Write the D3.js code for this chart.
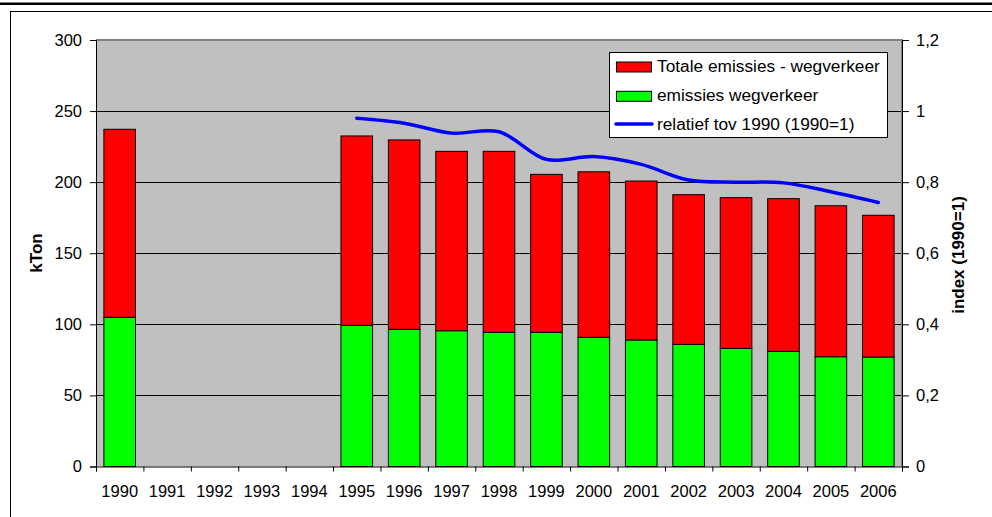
<!DOCTYPE html>
<html>
<head>
<meta charset="utf-8">
<script src="https://cdn.jsdelivr.net/npm/d3@7"></script>
<style>
  html, body { margin: 0; padding: 0; background: #fff; }
  svg { display: block; font-family: "Liberation Sans", Arial, sans-serif; }
</style>
</head>
<body>
<svg id="chart" width="992" height="517"></svg>
<script>
// Road traffic emissions (kTon), 1990-2006
const years = ["1990","1991","1992","1993","1994","1995","1996","1997","1998",
               "1999","2000","2001","2002","2003","2004","2005","2006"];
// road traffic share (green, bottom of stack)
const roadTraffic = [104.9, null, null, null, null, 99.3, 96.5, 95.5, 94.4,
                     94.4, 90.9, 89.0, 85.9, 83.1, 81.0, 77.2, 77.0];
// total emissions minus road traffic (red, stacked on top)
const otherEmissions = [132.3, null, null, null, null, 133.2, 133.2, 126.2, 127.3,
                        111.1, 116.4, 111.8, 105.3, 106.0, 107.4, 106.2, 99.7];
// relative to 1990 (1990 = 1), right axis
const relIndex = [1, null, null, null, null, 0.980, 0.966, 0.938, 0.942,
                  0.864, 0.872, 0.850, 0.806, 0.800, 0.798, 0.773, 0.743];
const leftTicks = [0, 50, 100, 150, 200, 250, 300];
const rightTicks = [0, 0.2, 0.4, 0.6, 0.8, 1, 1.2];
const seriesNames = ["Totale emissies - wegverkeer", "emissies wegverkeer", "relatief tov 1990 (1990=1)"];

const svg = d3.select("#chart");
const plot = { left: 96, right: 902, top: 40, bottom: 466.5 };

// outer frame
svg.append("line").attr("x1", 0).attr("x2", 992).attr("y1", 3.8).attr("y2", 3.8)
  .attr("stroke", "#000").attr("stroke-width", 2.4);
svg.append("rect").attr("x", 10.5).attr("y", 11.5).attr("width", 1000).attr("height", 600)
  .attr("fill", "none").attr("stroke", "#000").attr("stroke-width", 1);

const x = d3.scaleBand().domain(years).range([plot.left, plot.right])
  .paddingInner(1 / 3).paddingOuter(1 / 6);
const edges = d3.scaleLinear().domain([0, years.length]).range([plot.left, plot.right]);
const y = d3.scaleLinear().domain([0, 300]).range([plot.bottom, plot.top]);
const y2 = d3.scaleLinear().domain([0, 1.2]).range([plot.bottom, plot.top]);

// plot background
svg.append("rect").attr("x", plot.left).attr("y", plot.top)
  .attr("width", plot.right - plot.left).attr("height", plot.bottom - plot.top)
  .attr("fill", "#c0c0c0");

// gridlines
svg.append("g").selectAll("line").data(leftTicks.slice(1, -1)).join("line")
  .attr("x1", plot.left).attr("x2", plot.right)
  .attr("y1", d => Math.round(y(d)) + 0.5).attr("y2", d => Math.round(y(d)) + 0.5)
  .attr("stroke", "#000").attr("stroke-width", 1);

// stacked bars
const rows = years.map((yr, i) => ({ year: yr, road: roadTraffic[i], other: otherEmissions[i] }))
  .filter(d => d.road != null);
const stack = d3.stack().keys(["road", "other"])(rows);
const colors = { road: "#00ff00", other: "#ff0000" };
svg.append("g").selectAll("g").data(stack).join("g")
  .attr("fill", d => colors[d.key])
  .selectAll("rect").data(d => d).join("rect")
  .attr("x", d => x(d.data.year))
  .attr("width", x.bandwidth())
  .attr("y", d => y(d[1]))
  .attr("height", d => y(d[0]) - y(d[1]))
  .attr("stroke", "#000").attr("stroke-width", 1);

// plot border (top/right in grey)
svg.append("path")
  .attr("d", `M${plot.left},${plot.top}H${plot.right}V${plot.bottom}`)
  .attr("fill", "none").attr("stroke", "#808080").attr("stroke-width", 2);

// relative index line, drawn per contiguous run of values
const pts = years.map((yr, i) => ({ year: yr, v: relIndex[i] }));
const runs = [];
let cur = [];
pts.forEach(p => {
  if (p.v == null) { if (cur.length) runs.push(cur); cur = []; }
  else cur.push(p);
});
if (cur.length) runs.push(cur);
const line = d3.line()
  .x(d => x(d.year) + x.bandwidth() / 2)
  .y(d => y2(d.v))
  .curve(d3.curveCatmullRom.alpha(0.5));
svg.append("g").selectAll("path").data(runs.filter(r => r.length > 1)).join("path")
  .attr("d", line)
  .attr("fill", "none").attr("stroke", "#0000ff").attr("stroke-width", 3.5)
  .attr("stroke-linecap", "round").attr("stroke-linejoin", "round");

const tickFont = "16.5px";

// left axis
const leftAxis = svg.append("g").attr("transform", `translate(${plot.left},0)`)
  .call(d3.axisLeft(y).tickValues(leftTicks).tickSize(6).tickPadding(8));
// right axis
const fmtComma = d => d3.format("~g")(d).replace(".", ",");
const rightAxis = svg.append("g").attr("transform", `translate(${plot.right},0)`)
  .call(d3.axisRight(y2).tickValues(rightTicks).tickSize(7).tickPadding(7).tickFormat(fmtComma));
// bottom axis: ticks on category edges, labels on centres
const bottomTicks = svg.append("g").attr("transform", `translate(0,${plot.bottom})`)
  .call(d3.axisBottom(edges).ticks(years.length).tickValues(d3.range(years.length + 1))
    .tickSize(5).tickFormat(""));
const bottomLabels = svg.append("g").attr("transform", `translate(0,${plot.bottom})`)
  .call(d3.axisBottom(x).tickSize(0).tickPadding(19));

[leftAxis, rightAxis, bottomTicks, bottomLabels].forEach(g => {
  g.selectAll(".domain").attr("stroke", "#000").attr("stroke-width", 1);
  g.selectAll(".tick line").attr("stroke", "#000");
  g.selectAll("text").attr("font-size", tickFont).attr("fill", "#000")
    .attr("font-family", "'Liberation Sans', Arial, sans-serif");
});
bottomLabels.select(".domain").remove();

// axis titles
svg.append("text").attr("transform", "translate(42,253) rotate(-90)")
  .attr("text-anchor", "middle").attr("font-weight", "bold").attr("font-size", "17px")
  .text("kTon");
svg.append("text").attr("transform", "translate(964,255) rotate(-90)")
  .attr("text-anchor", "middle").attr("font-weight", "bold").attr("font-size", "17px")
  .text("index (1990=1)");

// legend
const legend = svg.append("g");
legend.append("rect").attr("x", 609.5).attr("y", 52.5).attr("width", 278).attr("height", 85)
  .attr("fill", "#fff").attr("stroke", "#000").attr("stroke-width", 1);
const legendRows = [
  { name: seriesNames[0], type: "rect", color: "#ff0000", base: 72 },
  { name: seriesNames[1], type: "rect", color: "#00ff00", base: 101.3 },
  { name: seriesNames[2], type: "line", color: "#0000ff", base: 130 }
];
legendRows.forEach(r => {
  if (r.type === "rect") {
    legend.append("rect").attr("x", 616.5).attr("y", r.base - 10).attr("width", 35).attr("height", 10)
      .attr("fill", r.color).attr("stroke", "#000").attr("stroke-width", 1);
  } else {
    legend.append("line").attr("x1", 616).attr("x2", 652).attr("y1", r.base - 6).attr("y2", r.base - 6)
      .attr("stroke", r.color).attr("stroke-width", 3.5).attr("stroke-linecap", "round");
  }
  legend.append("text").attr("x", 657).attr("y", r.base).attr("font-size", "17.3px")
    .attr("fill", "#000").text(r.name);
});
</script>
</body>
</html>
